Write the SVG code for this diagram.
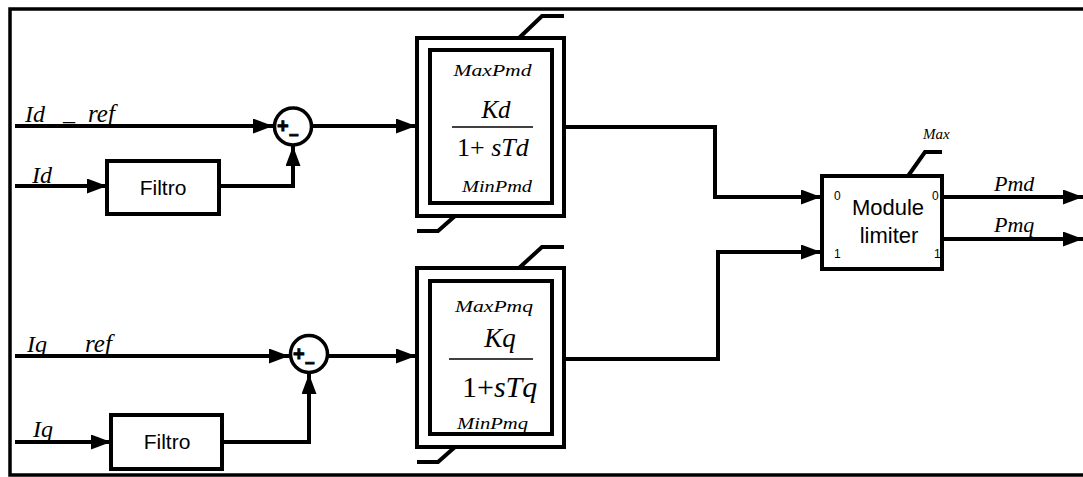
<svg xmlns="http://www.w3.org/2000/svg" width="1083" height="477" viewBox="0 0 1083 477">
  <defs>
    <marker id="arrow" markerUnits="userSpaceOnUse" markerWidth="20" markerHeight="15" refX="20" refY="7.5" orient="auto">
      <path d="M0,0 L20,7.5 L0,15 Z" fill="#000"/>
    </marker>
    <style>
      .box { fill: #fff; stroke: #000; stroke-width: 4; }
      .wire { fill: none; stroke: #000; stroke-width: 4; }
      .sat { fill: none; stroke: #000; stroke-width: 4; }
      .frac { stroke: #000; stroke-width: 1.5; }
      .sum { fill: #fff; stroke: #000; stroke-width: 3.5; }
      .sign { font-family: "Liberation Sans", Arial, sans-serif; font-weight: bold; fill: #000; stroke: #000; stroke-width: 0.8; }
      .math { font-family: "Liberation Serif", "Times New Roman", serif; font-style: italic; fill: #000; }
      .num { font-family: "Liberation Serif", "Times New Roman", serif; fill: #000; }
      .sans { font-family: "Liberation Sans", Arial, sans-serif; fill: #000; }
    </style>
  </defs>

  <!-- frame -->
  <rect x="10" y="9" width="1085" height="466" fill="#fff" stroke="#000" stroke-width="3.5"/>

  <!-- input and output labels -->
  <g id="labels">
    <text class="math" x="25" y="122" font-size="24">Id</text>
    <text class="math" x="63" y="120" font-size="24">_</text>
    <text class="math" x="88" y="122" font-size="25">ref</text>
    <text class="math" x="32" y="183" font-size="24">Id</text>
    <text class="math" x="27" y="352" font-size="24">Iq</text>
    <text class="math" x="85" y="352" font-size="25">ref</text>
    <text class="math" x="33" y="437" font-size="24">Iq</text>
    <text class="math" x="994" y="191" font-size="22">Pmd</text>
    <text class="math" x="994" y="232" font-size="22">Pmq</text>
  </g>

  <!-- connectors -->
  <g id="connectors">
    <path class="wire" d="M15,126 H273" marker-end="url(#arrow)"/>
    <path class="wire" d="M15,186 H107" marker-end="url(#arrow)"/>
    <path class="wire" d="M219,186 H293 V146" marker-end="url(#arrow)"/>
    <path class="wire" d="M307,126 H416" marker-end="url(#arrow)"/>
    <path class="wire" d="M564,127 H715 V197 H821" marker-end="url(#arrow)"/>
    <path class="wire" d="M15,356 H289" marker-end="url(#arrow)"/>
    <path class="wire" d="M15,442 H111" marker-end="url(#arrow)"/>
    <path class="wire" d="M222,442 H309 V374" marker-end="url(#arrow)"/>
    <path class="wire" d="M323,356 H416" marker-end="url(#arrow)"/>
    <path class="wire" d="M564,359 H718 V252 H821" marker-end="url(#arrow)"/>
    <path class="wire" d="M942,197 H1083" marker-end="url(#arrow)"/>
    <path class="wire" d="M942,239 H1083" marker-end="url(#arrow)"/>
  </g>

  <!-- d-axis filter -->
  <g id="filter-d">
    <rect class="box" x="107" y="161" width="112" height="53"/>
    <text class="sans" x="163" y="195" font-size="21" text-anchor="middle">Filtro</text>
  </g>

  <!-- q-axis filter -->
  <g id="filter-q">
    <rect class="box" x="111" y="415" width="111" height="54"/>
    <text class="sans" x="167" y="449" font-size="21" text-anchor="middle">Filtro</text>
  </g>

  <!-- d-axis summing junction -->
  <g id="sum-d">
    <circle class="sum" cx="293" cy="126.5" r="18.5"/>
    <text class="sign" x="277" y="133" font-size="20">+</text>
    <text class="sign" x="289" y="141" font-size="17">−</text>
  </g>

  <!-- q-axis summing junction -->
  <g id="sum-q">
    <circle class="sum" cx="309" cy="354" r="18.5"/>
    <text class="sign" x="293" y="360.5" font-size="20">+</text>
    <text class="sign" x="305" y="368.5" font-size="17">−</text>
  </g>

  <!-- d-axis limited lag block -->
  <g id="lag-d">
    <rect class="box" x="417" y="38" width="147" height="178"/>
    <rect class="box" x="430" y="50" width="122" height="153"/>
    <path class="sat" d="M519,38 L542,16 H564"/>
    <path class="sat" d="M455,216 L438,231 H417"/>
    <text class="math" x="492.5" y="76" font-size="16.5" text-anchor="middle" textLength="78" lengthAdjust="spacingAndGlyphs">MaxPmd</text>
    <text class="math" x="496" y="118" font-size="25" text-anchor="middle">Kd</text>
    <line class="frac" x1="452" y1="127" x2="533" y2="127"/>
    <text x="457" y="156" font-size="26"><tspan class="num">1+ </tspan><tspan class="math">sTd</tspan></text>
    <text class="math" x="497" y="192" font-size="16" text-anchor="middle" textLength="70" lengthAdjust="spacingAndGlyphs">MinPmd</text>
  </g>

  <!-- q-axis limited lag block -->
  <g id="lag-q">
    <rect class="box" x="417" y="268" width="147" height="179"/>
    <rect class="box" x="430" y="281" width="122" height="153"/>
    <path class="sat" d="M519,268 L542,247 H564"/>
    <path class="sat" d="M455,447 L438,462 H417"/>
    <text class="math" x="494" y="312" font-size="16.5" text-anchor="middle" textLength="78" lengthAdjust="spacingAndGlyphs">MaxPmq</text>
    <text class="math" x="500" y="347" font-size="27" text-anchor="middle">Kq</text>
    <line class="frac" x1="449" y1="359" x2="533" y2="359"/>
    <text x="462" y="397" font-size="30"><tspan class="num">1+</tspan><tspan class="math">sTq</tspan></text>
    <text class="math" x="492.5" y="429" font-size="16" text-anchor="middle" textLength="71" lengthAdjust="spacingAndGlyphs">MinPmq</text>
  </g>

  <!-- module limiter -->
  <g id="module-limiter">
    <rect class="box" x="822" y="176" width="120" height="93"/>
    <path class="sat" d="M908,176 L925,152 H942"/>
    <text class="math" x="923" y="139" font-size="15">Max</text>
    <text class="sans" x="888" y="215" font-size="22" text-anchor="middle">Module</text>
    <text class="sans" x="889" y="243" font-size="22" text-anchor="middle">limiter</text>
    <text class="sans" x="834" y="200" font-size="12">0</text>
    <text class="sans" x="834" y="258" font-size="12">1</text>
    <text class="sans" x="932" y="200" font-size="12">0</text>
    <text class="sans" x="934" y="258" font-size="12">1</text>
  </g>
</svg>
